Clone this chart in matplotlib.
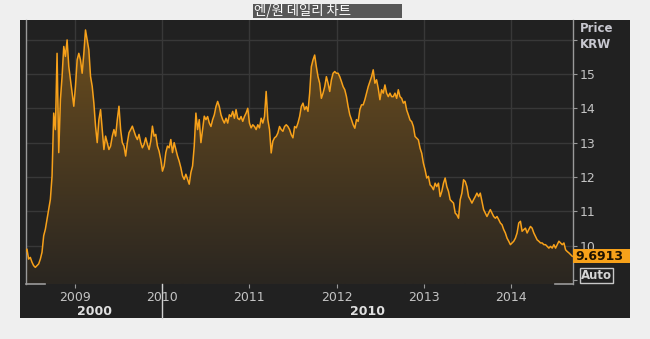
import numpy as np
import pandas as pd
import matplotlib
matplotlib.use('Agg')
import matplotlib.pyplot as plt
import matplotlib.dates as mdates
import matplotlib.transforms as mtransforms
from matplotlib.colors import LinearSegmentedColormap
from matplotlib.patches import Rectangle, Polygon

plt.rcParams['font.family'] = ['DejaVu Sans', 'Noto Sans CJK KR']

# data (weekly closes)
title = '엔/원 데일리 차트'
start_date = '2008-06-07'
prices = [
    9.81, 9.90, 9.61, 9.66, 9.52, 9.42, 9.37, 9.42, 9.47, 9.61,
    9.81, 10.29, 10.48, 10.77, 11.06, 11.35, 12.03, 13.86, 13.38, 15.60,
    12.71, 14.25, 14.93, 15.80, 15.51, 15.99, 15.22, 14.83, 14.44, 14.06,
    14.64, 15.41, 15.60, 15.41, 15.02, 15.60, 16.28, 15.99, 15.70, 14.93,
    14.64, 14.15, 13.48, 13.00, 13.67, 13.96, 13.38, 12.80, 13.19, 13.00,
    12.80, 12.90, 13.19, 13.38, 13.19, 13.67, 14.06, 13.38, 13.00, 12.90,
    12.61, 13.00, 13.29, 13.38, 13.48, 13.33, 13.19, 13.09, 13.24, 13.00,
    12.85, 12.95, 13.14, 12.95, 12.80, 13.04, 13.48, 13.19, 13.24, 12.90,
    12.75, 12.51, 12.17, 12.32, 12.71, 12.90, 12.85, 13.09, 12.71, 13.00,
    12.80, 12.61, 12.46, 12.27, 12.03, 11.93, 12.08, 11.93, 11.79, 12.13,
    12.32, 12.90, 13.86, 13.38, 13.67, 13.00, 13.38, 13.77, 13.67,
    13.76, 13.57, 13.47, 13.67, 13.81, 14.05, 14.20, 14.05, 13.81, 13.67,
    13.57, 13.71, 13.57, 13.81, 13.76, 13.91, 13.71, 13.96, 13.71, 13.67,
    13.76, 13.62, 13.76, 13.86, 14.00, 13.57, 13.43, 13.52, 13.47, 13.38,
    13.52, 13.43, 13.71, 13.57, 13.76, 14.49, 13.67, 13.38, 12.70, 13.04,
    13.14, 13.18, 13.28, 13.47, 13.38, 13.33, 13.47, 13.52, 13.47, 13.38,
    13.23, 13.14, 13.47, 13.43, 13.57, 13.76, 14.05, 14.15, 13.96, 14.05,
    13.91, 14.44, 15.21, 15.41, 15.55, 15.21, 14.92, 14.73, 14.29, 14.44,
    14.63, 14.92, 14.73, 14.49, 14.83, 15.02, 15.07, 15.02, 15.02, 14.92,
    14.78, 14.63, 14.54, 14.34, 14.05, 13.81, 13.67, 13.52, 13.42, 13.67,
    13.62, 13.96, 14.10, 14.10, 14.25, 14.44, 14.63, 14.78, 14.92, 15.12,
    14.73, 14.83, 14.58, 14.25, 14.54, 14.44, 14.68, 14.44, 14.34, 14.44,
    14.34, 14.34, 14.44, 14.29, 14.54, 14.34,
    14.29, 14.15, 14.20, 13.95, 13.81, 13.66, 13.61, 13.47, 13.18, 13.13,
    13.08, 12.84, 12.69, 12.40, 12.21, 11.97, 12.02, 11.77, 11.72, 11.63,
    11.82, 11.72, 11.82, 11.43, 11.58, 11.82, 11.97, 11.72, 11.58, 11.34,
    11.29, 11.24, 10.95, 10.90, 10.80, 11.34, 11.53, 11.92, 11.87, 11.72,
    11.43, 11.34, 11.24, 11.34, 11.43, 11.53, 11.43, 11.53, 11.29, 11.05,
    10.95, 10.85, 10.95, 11.05, 10.95, 10.85, 10.80, 10.85, 10.76, 10.66,
    10.61, 10.47, 10.37, 10.22, 10.13, 10.03, 10.08, 10.13, 10.22, 10.37,
    10.66, 10.71, 10.42, 10.47, 10.51, 10.37, 10.47, 10.56, 10.51, 10.37,
    10.27, 10.17, 10.13, 10.08, 10.08, 10.03, 10.03, 9.98, 9.93, 9.98,
    9.93, 10.03, 9.93, 10.03, 10.13, 10.08, 10.03, 10.08, 9.88, 9.83,
    9.79, 9.74, 9.6913,
]
dates = pd.date_range(start_date, periods=len(prices), freq='7D')
last_value = prices[-1]
y_ticks = [9, 10, 11, 12, 13, 14, 15, 16]
y_labels = ['', '10', '11', '12', '13', '14', '15', '']
decade_labels = ['2000', '2010']
decade_split = pd.Timestamp('2010-01-01')
x_start = pd.Timestamp('2008-06-10')
x_end = pd.Timestamp('2014-09-16')

W, H = 650, 339
orange = '#f7a11a'
panel = '#212121'
grid_c = '#383838'
spine_c = '#9a9a9a'
text_c = '#c4c4c4'


def px(x, y):
    return x / W, 1 - y / H


fig = plt.figure(figsize=(W / 100, H / 100), dpi=100, facecolor='#efefef')
fig.patches.append(Rectangle(px(20, 318), 610 / W, 298 / H, transform=fig.transFigure,
                             facecolor=panel, edgecolor='none', zorder=-2))
fig.patches.append(Rectangle(px(253, 18.3), 149 / W, 14.3 / H, transform=fig.transFigure,
                             facecolor='#575757', edgecolor='none', zorder=-2))
fig.text(*px(254, 11.3), title, color='white', fontsize=9.6, va='center', ha='left',
         family=['Noto Sans CJK KR'])

ax = fig.add_axes([26 / W, 1 - 284 / H, 547 / W, 264 / H])
ax.set_zorder(1)
ax.set_facecolor(panel)
ymin, ymax = 8.885, 16.57
ax.set_xlim(x_start, x_end)
ax.set_ylim(ymin, ymax)

# gradient fill under the line
xs = mdates.date2num(dates)
verts = list(zip(xs, prices)) + [(xs[-1], ymin), (xs[0], ymin)]
clip = Polygon(verts, closed=True, facecolor='none', edgecolor='none', transform=ax.transData)
ax.add_patch(clip)
cmap = LinearSegmentedColormap.from_list('fillgrad', ['#2a2621', '#6e4f1e'])
grad = np.linspace(1, 0, 256)[:, None]
im = ax.imshow(grad, extent=[mdates.date2num(x_start), mdates.date2num(x_end), ymin, ymax],
               aspect='auto', cmap=cmap, origin='upper', zorder=1, interpolation='bilinear')
im.set_clip_path(clip)

ax.plot(dates, prices, color=orange, lw=1.1, zorder=3, solid_joinstyle='round')

# axes styling
ax.yaxis.tick_right()
ax.set_yticks(y_ticks)
ax.set_yticklabels(y_labels)
ax.xaxis.set_major_locator(mdates.YearLocator())
ax.xaxis.set_major_formatter(mdates.DateFormatter('%Y'))
ax.tick_params(axis='y', colors=spine_c, labelcolor=text_c, labelsize=9, length=3, pad=2)
ax.tick_params(axis='x', colors=spine_c, labelcolor=text_c, labelsize=9, length=3, pad=2)
ax.grid(True, color=grid_c, lw=1.0, zorder=0)
ax.set_axisbelow(True)
for s in ['top', 'bottom']:
    ax.spines[s].set_visible(False)
for s in ['left', 'right']:
    ax.spines[s].set_color(spine_c)
    ax.spines[s].set_linewidth(1.0)

# bottom corner marks
ax.plot([0, 19 / 547], [0, 0], color=spine_c, lw=1.2, transform=ax.transAxes, clip_on=False)
ax.plot([1 - 18 / 547, 1], [0, 0], color=spine_c, lw=1.2, transform=ax.transAxes, clip_on=False)

# decade row
blend = mtransforms.blended_transform_factory(ax.transData, ax.transAxes)
ax.plot([decade_split, decade_split], [0, -34 / 264], color='#d0d0d0', lw=1.0,
        transform=blend, clip_on=False)
x0, xs_, x1 = mdates.date2num([x_start, decade_split, x_end])
for lab, cx in zip(decade_labels, [(x0 + xs_) / 2, (xs_ + x1) / 2]):
    ax.text(cx, -27.5 / 264, lab, transform=blend, ha='center', va='center',
            color='#e0e0e0', fontsize=9, fontweight='bold')

# header of price axis
fig.text(*px(580, 28), 'Price', color='#c8c8d0', fontsize=8.5, fontweight='bold', va='center')
fig.text(*px(580, 44.5), 'KRW', color='#c8c8d0', fontsize=8.5, fontweight='bold', va='center')

# last value tag
bl = mtransforms.blended_transform_factory(ax.transAxes, ax.transData)
ax.add_patch(Rectangle((1.0, last_value - 0.2), 57 / 547, 0.4, transform=bl,
                       facecolor=orange, edgecolor='none', clip_on=False, zorder=4))
ax.text(1 + 2 / 547, last_value, f'{last_value:.4f}', transform=bl, ha='left', va='center',
        color='#1e1200', fontsize=9, fontweight='bold', zorder=5, clip_on=False)

# Auto button
fig.patches.append(Rectangle(px(580, 283), 32.7 / W, 15 / H, transform=fig.transFigure,
                             facecolor='none', edgecolor='#c8c8c8', lw=1.0, zorder=3))
fig.text(*px(596.3, 275.7), 'Auto', color='#d4d4d4', fontsize=8.5, fontweight='bold',
         ha='center', va='center')

fig.savefig('out.png', dpi=100, facecolor=fig.get_facecolor())
